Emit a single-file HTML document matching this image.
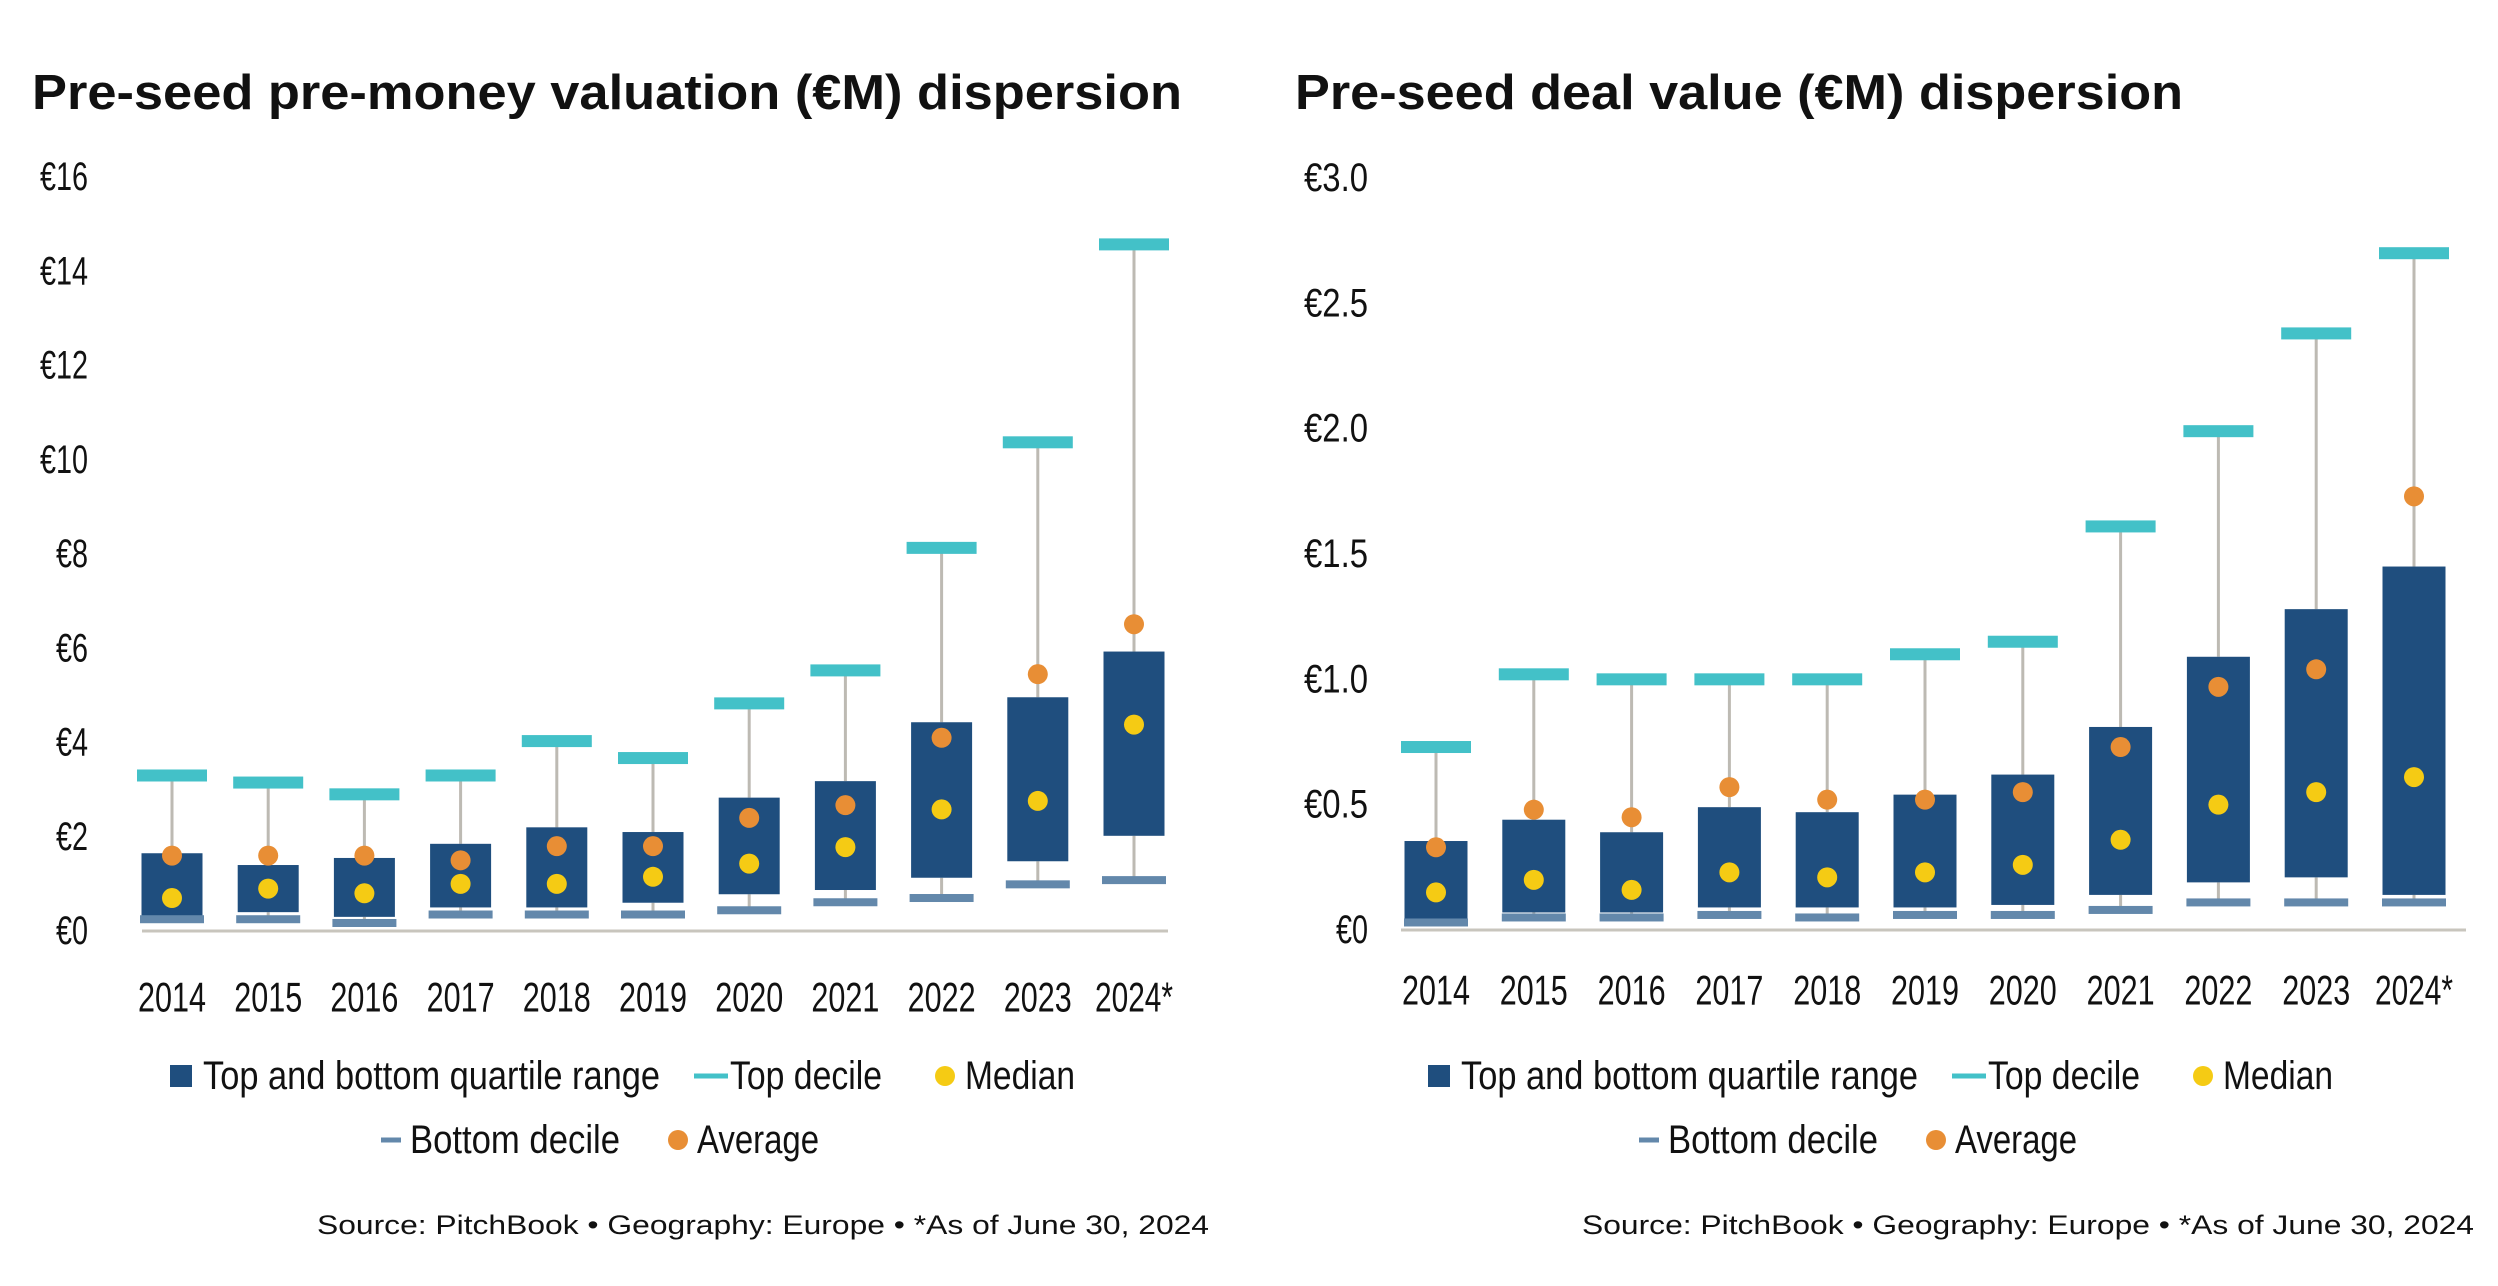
<!DOCTYPE html>
<html><head><meta charset="utf-8"><style>
html,body{margin:0;padding:0;background:#fff;}
svg{display:block;font-family:"Liberation Sans",sans-serif;}
</style></head><body>
<svg id="s" width="2498" height="1286" viewBox="0 0 2498 1286" xmlns="http://www.w3.org/2000/svg"></svg>
<script>
const years = ["2014","2015","2016","2017","2018","2019","2020","2021","2022","2023","2024*"];
// Left chart: pre-money valuation
const valTopDecile = [3.3,3.15,2.9,3.3,4.03,3.67,4.83,5.53,8.13,10.37,14.57];
const valQ3 = [1.65,1.4,1.55,1.85,2.2,2.1,2.83,3.18,4.43,4.96,5.93];
const valQ1 = [0.3,0.4,0.3,0.5,0.5,0.6,0.78,0.87,1.13,1.48,2.02];
const valBottomDecile = [0.25,0.25,0.17,0.35,0.35,0.35,0.44,0.61,0.7,0.99,1.08];
const valAverage = [1.6,1.6,1.6,1.5,1.8,1.8,2.4,2.67,4.1,5.45,6.51];
const valMedian = [0.7,0.9,0.8,1.0,1.0,1.15,1.43,1.78,2.58,2.76,4.38];
const valTicks = [0,2,4,6,8,10,12,14,16];
const valTickLabels = ["€0","€2","€4","€6","€8","€10","€12","€14","€16"];
// Right chart: deal value
const dealTopDecile = [0.73,1.02,1.0,1.0,1.0,1.1,1.15,1.61,1.99,2.38,2.7];
const dealQ3 = [0.355,0.44,0.39,0.49,0.47,0.54,0.62,0.81,1.09,1.28,1.45];
const dealQ1 = [0.04,0.07,0.07,0.09,0.09,0.09,0.1,0.14,0.19,0.21,0.14];
const dealBottomDecile = [0.03,0.05,0.05,0.06,0.05,0.06,0.06,0.08,0.11,0.11,0.11];
const dealAverage = [0.33,0.48,0.45,0.57,0.52,0.52,0.55,0.73,0.97,1.04,1.73];
const dealMedian = [0.15,0.2,0.16,0.23,0.21,0.23,0.26,0.36,0.5,0.55,0.61];
const dealTicks = [0,0.5,1.0,1.5,2.0,2.5,3.0];
const dealTickLabels = ["€0","€0.5","€1.0","€1.5","€2.0","€2.5","€3.0"];

const NS="http://www.w3.org/2000/svg";
const svg=document.getElementById('s');
function mk(tag,attrs,parent){const e=document.createElementNS(NS,tag);for(const k in attrs)e.setAttribute(k,attrs[k]);(parent||svg).appendChild(e);return e;}
function txt(parent,x,y,s,size,anchor,weight,len){const t=mk('text',{x:x,y:y,'font-size':size,'text-anchor':anchor||'start','dominant-baseline':'central',fill:'#111','font-weight':weight||'normal'},parent);if(len){t.setAttribute('textLength',len);t.setAttribute('lengthAdjust','spacingAndGlyphs');}t.textContent=s;return t;}

function chart(o){
  const g=mk('g',{});
  
  
  const yS=v=>o.y0-(v/o.max)*(o.y0-o.yTop);
  const xS=i=>o.x0+i*o.step;
  const title=txt(g,o.titleX,93,o.title,49,'start','bold',o.titleLen);
  
  
  o.ticks.forEach((v,i)=>{const t=txt(g,o.tickX,yS(v),o.tickLabels[i],40,'end','normal',o.tickLabels[i].length*16);
    
    });
  const ax=mk('line',{x1:o.axisX1,x2:o.axisX2,y1:o.y0,y2:o.y0,stroke:'#c8c5bd','stroke-width':3},g);
  
  
  years.forEach((yr,i)=>{
    const cx=xS(i);
    const w1=mk('line',{x1:cx,x2:cx,y1:yS(o.top[i]),y2:yS(o.q3[i]),stroke:'#bdbab3','stroke-width':3},g);
    
    
    const w2=mk('line',{x1:cx,x2:cx,y1:yS(o.q1[i]),y2:yS(o.bot[i]),stroke:'#bdbab3','stroke-width':3},g);
    
    
    const b=mk('rect',{x:cx-o.bw/2,y:yS(o.q3[i]),width:o.bw,height:yS(o.q1[i])-yS(o.q3[i]),fill:'#1f4e7e'},g);
    
    
    const td=mk('rect',{x:cx-35,y:yS(o.top[i])-6,width:70,height:12,fill:'#43c1c8'},g);
    
    
    const bd=mk('rect',{x:cx-32,y:yS(o.bot[i])-4,width:64,height:8,fill:'#6388ab'},g);
    
    
    const av=mk('circle',{cx:cx,cy:yS(o.avg[i]),r:10,fill:'#e88e35'},g);
    
    
    const md=mk('circle',{cx:cx,cy:yS(o.med[i]),r:10,fill:'#f5cb14'},g);
    
    
    const yl=txt(g,cx,o.yearY,yr,42,'middle','normal',yr.length===5?78:68);
    
    
  });
  const L=o.legX, r1=o.legY, r2=o.legY+64;
  const lg=mk('g',{},g);
  
  
  mk('rect',{x:L,y:r1-11,width:22,height:22,fill:'#1f4e7e'},lg);
  txt(lg,L+33,r1,'Top and bottom quartile range',40,'start','normal',457);
  mk('rect',{x:L+524,y:r1-2.5,width:34,height:5,fill:'#43c1c8'},lg);
  txt(lg,L+560,r1,'Top decile',40,'start','normal',152);
  mk('circle',{cx:L+775,cy:r1,r:10,fill:'#f5cb14'},lg);
  txt(lg,L+795,r1,'Median',40,'start','normal',110);
  mk('rect',{x:L+211,y:r2-2.5,width:20,height:5,fill:'#6388ab'},lg);
  txt(lg,L+240,r2,'Bottom decile',40,'start','normal',210);
  mk('circle',{cx:L+508,cy:r2,r:10,fill:'#e88e35'},lg);
  txt(lg,L+527,r2,'Average',40,'start','normal',122);
  const src=txt(g,o.srcX,1225,'Source: PitchBook  •  Geography: Europe  •  *As of June 30, 2024',27,'end','normal',892);
  
  
}

chart({name:'valuation-chart',title:'Pre-seed pre-money valuation (€M) dispersion',titleX:32,titleLen:1150,
  tickX:88,y0:931,yTop:177,max:16,ticks:valTicks,tickLabels:valTickLabels,axisX1:142,axisX2:1168,
  x0:172,step:96.2,bw:61,top:valTopDecile,q3:valQ3,q1:valQ1,bot:valBottomDecile,avg:valAverage,med:valMedian,
  yearY:997,legX:170,legY:1076,srcX:1209});
chart({name:'deal-value-chart',title:'Pre-seed deal value (€M) dispersion',titleX:1295,titleLen:888,
  tickX:1368,y0:930,yTop:178,max:3,ticks:dealTicks,tickLabels:dealTickLabels,axisX1:1401,axisX2:2466,
  x0:1436,step:97.8,bw:63,top:dealTopDecile,q3:dealQ3,q1:dealQ1,bot:dealBottomDecile,avg:dealAverage,med:dealMedian,
  yearY:990,legX:1428,legY:1076,srcX:2474});
</script>
</body></html>
